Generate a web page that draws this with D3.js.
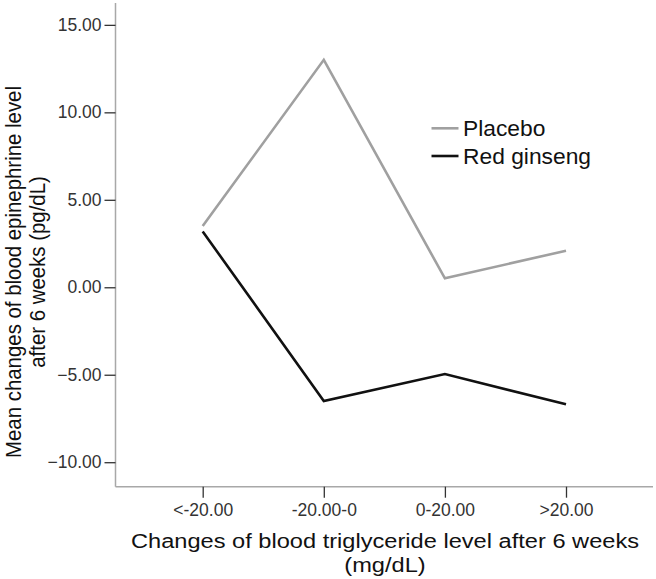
<!DOCTYPE html>
<html>
<head>
<meta charset="utf-8">
<script src="https://cdn.jsdelivr.net/npm/d3@7"></script>
<style>
  html, body { margin: 0; padding: 0; background: #fff; }
  svg { display: block; font-family: "Liberation Sans", Arial, sans-serif; }
</style>
</head>
<body>
<svg id="chart" width="656" height="579"></svg>
<script>
const categories = ["<-20.00", "-20.00-0", "0-20.00", ">20.00"];
const placebo = [3.50, 13.00, 0.51, 2.09];
const redGinseng = [3.19, -6.50, -4.96, -6.69];
const yTicks = [-10, -5, 0, 5, 10, 15];
const seriesNames = ["Placebo", "Red ginseng"];
const seriesColors = ["#a0a0a0", "#111111"];

const svg = d3.select("#chart");

const axisLeftX = 115.5, axisRightX = 653, axisBottomY = 486.7, axisTopY = 3;

const x = d3.scalePoint().domain(categories).range([202.7, 566]);
const y = d3.scaleLinear().domain([-11.4, 16.25]).range([axisBottomY, axisTopY]);

// Axis lines
svg.append("line")
  .attr("x1", axisLeftX).attr("x2", axisLeftX)
  .attr("y1", axisTopY).attr("y2", axisBottomY)
  .attr("stroke", "#a8a8a8").attr("stroke-width", 1.5);
svg.append("line")
  .attr("x1", axisLeftX).attr("x2", axisRightX)
  .attr("y1", axisBottomY).attr("y2", axisBottomY)
  .attr("stroke", "#a8a8a8").attr("stroke-width", 1.5);

// Y axis
const yAxis = d3.axisLeft(y).tickValues(yTicks).tickFormat(d3.format(".2f")).tickSize(11).tickPadding(3);
const gy = svg.append("g").attr("transform", `translate(${axisLeftX},0)`).call(yAxis);
gy.select(".domain").remove();
gy.selectAll(".tick line").attr("stroke", "#333").attr("stroke-width", 1.3);
gy.selectAll(".tick text").attr("fill", "#333").attr("font-size", "17.5px")
  .attr("font-family", "Liberation Sans, Arial, sans-serif");

// X axis
const xAxis = d3.axisBottom(x).tickSize(11).tickPadding(6);
const gx = svg.append("g").attr("transform", `translate(0,${axisBottomY})`).call(xAxis);
gx.select(".domain").remove();
gx.selectAll(".tick line").attr("stroke", "#333").attr("stroke-width", 1.3);
gx.selectAll(".tick text").attr("fill", "#333").attr("font-size", "17.5px")
  .attr("font-family", "Liberation Sans, Arial, sans-serif");

// Lines
const line = d3.line().x((d, i) => x(categories[i])).y(d => y(d));
[placebo, redGinseng].forEach((s, k) => {
  svg.append("path").datum(s)
    .attr("d", line)
    .attr("fill", "none")
    .attr("stroke", seriesColors[k])
    .attr("stroke-width", 2.6)
    .attr("stroke-linejoin", "miter");
});

// Legend
const legend = svg.append("g");
seriesNames.forEach((name, i) => {
  const ly = 128.3 + i * 27.7;
  legend.append("line")
    .attr("x1", 431.5).attr("x2", 458.5)
    .attr("y1", ly).attr("y2", ly)
    .attr("stroke", seriesColors[i]).attr("stroke-width", 2.6);
  legend.append("text")
    .attr("x", 463).attr("y", ly + 8)
    .attr("font-size", "22.8px").attr("fill", "#111")
    .text(name);
});

// X title
const xt = svg.append("text").attr("text-anchor", "middle").attr("font-size", "21px").attr("fill", "#111")
  .attr("transform", "translate(385,0) scale(1.125,1)");
xt.append("tspan").attr("x", 0).attr("y", 548.5).text("Changes of blood triglyceride level after 6 weeks");
xt.append("tspan").attr("x", 0).attr("y", 572).text("(mg/dL)");

// Y title
const yt = svg.append("text").attr("text-anchor", "middle").attr("font-size", "20.4px").attr("fill", "#111")
  .attr("transform", "translate(1.5,272) scale(1.11,1) rotate(-90)");
yt.append("tspan").attr("x", 0).attr("y", 17.3).text("Mean changes of blood epinephrine level");
yt.append("tspan").attr("x", 0).attr("y", 39).text("after 6 weeks (pg/dL)");
</script>
</body>
</html>
